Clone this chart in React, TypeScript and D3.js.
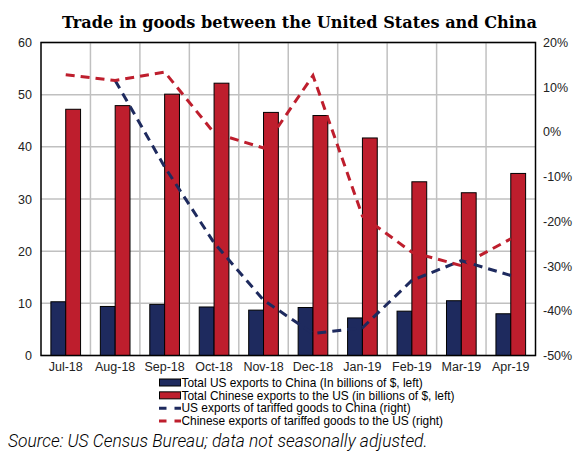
import React from "react";
import * as d3 from "d3";

const categories = ["Jul-18", "Aug-18", "Sep-18", "Oct-18", "Nov-18", "Dec-18", "Jan-19", "Feb-19", "Mar-19", "Apr-19"];
const usExports = [10.3, 9.4, 9.8, 9.3, 8.7, 9.2, 7.2, 8.5, 10.5, 8.0];
const chinaExports = [47.2, 47.9, 50.1, 52.2, 46.6, 46.0, 41.7, 33.3, 31.2, 34.9];
const usTariffed: (number | null)[] = [null, 11.5, -7.8, -24.8, -37.6, -45.1, -43.8, -33.2, -28.8, -32.1];
const chinaTariffed = [12.8, 11.5, 13.4, -0.2, -3.6, 12.6, -18.8, -26.9, -29.9, -23.9];
const leftTicks = [0, 10, 20, 30, 40, 50, 60];
const rightTicks = [20, 10, 0, -10, -20, -30, -40, -50];
const legendItems = [
  { label: "Total US exports to China (In billions of $, left)", kind: "bar", key: "us" },
  { label: "Total Chinese exports to the US (in billions of $, left)", kind: "bar", key: "cn" },
  { label: "US exports of tariffed goods to China (right)", kind: "line", key: "us" },
  { label: "Chinese exports of tariffed goods to the US (right)", kind: "line", key: "cn" },
];

const NAVY = "#1e2a5e";
const RED = "#be1e2d";
const W = 585, H = 459;
const L = 41, R = 535.5, T = 42.5, B = 355.5;

export default function App() {
  const x = d3.scaleBand<string>().domain(categories).range([L, R]).padding(0);
  const bw = x.bandwidth();
  const barW = bw / (2 + 4 / 3);
  const yL = d3.scaleLinear().domain([0, 60]).range([B, T]);
  const yR = d3.scaleLinear().domain([-50, 20]).range([B, T]);
  const cx = (c: string) => (x(c) as number) + bw / 2;
  const line = d3
    .line<number | null>()
    .defined((d) => d !== null)
    .x((_, i) => cx(categories[i]))
    .y((d) => yR(d as number));
  const font = "'Liberation Sans', Arial, sans-serif";
  const color = (k: string) => (k === "us" ? NAVY : RED);

  return (
    <svg width={W} height={H} style={{ position: "absolute", left: 0, top: 0, background: "#fff" }}>
      <text x={62} y={28} textAnchor="start" fontFamily="'DejaVu Serif', serif" fontWeight="bold" fontSize={17.5} fill="#000" textLength={475} lengthAdjust="spacingAndGlyphs">
        Trade in goods between the United States and China
      </text>
      {/* gridlines */}
      {leftTicks.map((t) => (
        <line key={"h" + t} x1={L} x2={R} y1={yL(t)} y2={yL(t)} stroke="#c0c0c0" strokeWidth={1.5} />
      ))}
      {categories.slice(1).map((c) => (
        <line key={"v" + c} x1={x(c)} x2={x(c)} y1={T} y2={B} stroke="#c0c0c0" strokeWidth={1.5} />
      ))}
      {/* bars */}
      {categories.map((c, i) => {
        const x0 = cx(c) - barW;
        return (
          <g key={"b" + c}>
            <rect x={x0} y={yL(usExports[i])} width={barW} height={B - yL(usExports[i])} fill={NAVY} stroke="#000" strokeWidth={1} />
            <rect x={x0 + barW} y={yL(chinaExports[i])} width={barW} height={B - yL(chinaExports[i])} fill={RED} stroke="#000" strokeWidth={1} />
          </g>
        );
      })}
      {/* lines */}
      <path d={line(usTariffed) || ""} fill="none" stroke={NAVY} strokeWidth={3} strokeDasharray="9,6" />
      <path d={line(chinaTariffed) || ""} fill="none" stroke={RED} strokeWidth={3} strokeDasharray="9,6" />
      {/* frame */}
      <rect x={L} y={T} width={R - L} height={B - T} fill="none" stroke="#000" strokeWidth={1.5} />
      {/* left ticks */}
      {leftTicks.map((t) => (
        <text key={"lt" + t} x={32} y={yL(t) + 4.5} textAnchor="end" fontFamily={font} fontSize={12.5} fill="#222">
          {t}
        </text>
      ))}
      {rightTicks.map((t) => (
        <text key={"rt" + t} x={543} y={yR(t) + 4.5} textAnchor="start" fontFamily={font} fontSize={12.5} fill="#222">
          {t + "%"}
        </text>
      ))}
      {categories.map((c) => (
        <text key={"xt" + c} x={cx(c)} y={371} textAnchor="middle" fontFamily={font} fontSize={12.5} fill="#222">
          {c}
        </text>
      ))}
      {/* legend */}
      {legendItems.map((it, i) => {
        const yy = 382.5 + i * 12.85;
        return (
          <g key={"lg" + i}>
            {it.kind === "bar" ? (
              <rect x={159.5} y={yy - 3.5} width={21} height={7} fill={color(it.key)} stroke="#000" strokeWidth={1} />
            ) : (
              <line x1={159} x2={181} y1={yy} y2={yy} stroke={color(it.key)} strokeWidth={3} strokeDasharray="7.5,8" />
            )}
            <text x={181.5} y={yy + 4.2} fontFamily={font} fontSize={11.9} fill="#000">
              {it.label}
            </text>
          </g>
        );
      })}
      <text x={8} y={447} fontFamily="Roboto, sans-serif" fontStyle="italic" fontWeight={300} fontSize={17.4} fill="#000">
        Source: US Census Bureau; data not seasonally adjusted.
      </text>
    </svg>
  );
}
